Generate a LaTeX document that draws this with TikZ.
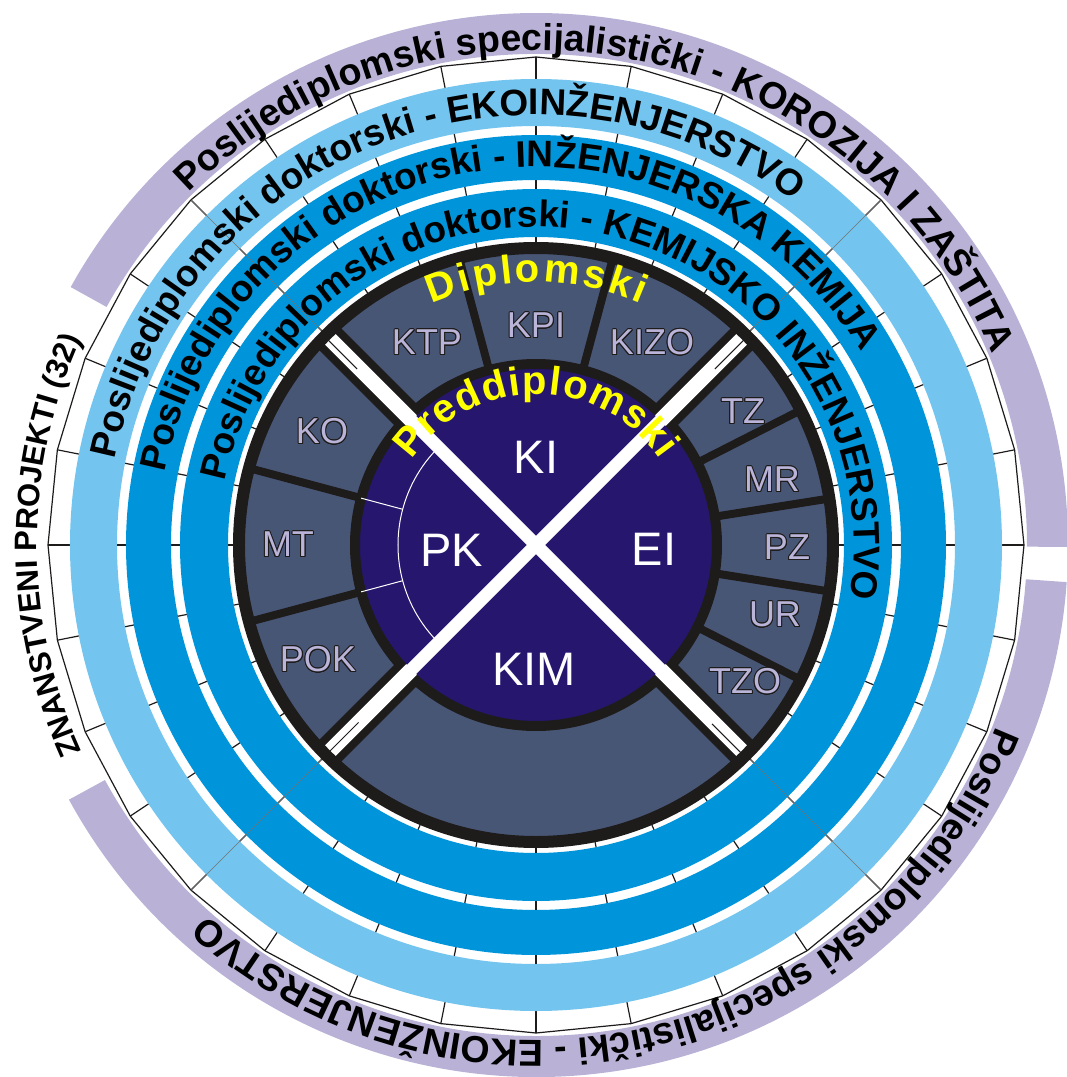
\documentclass[tikz,border=0pt]{standalone}
\usepackage{fontspec}
\setmainfont{Liberation Sans}
\usepackage{contour}
\usetikzlibrary{decorations.text}

\definecolor{ringlila}{HTML}{B9B2D6}
\definecolor{hellblau}{HTML}{73C4EE}
\definecolor{blau}{HTML}{0094DA}
\definecolor{segblau}{HTML}{485676}
\definecolor{kern}{HTML}{26166E}
\definecolor{schrift}{HTML}{BAB4D8}
\definecolor{linie}{HTML}{1E1B1B}
\definecolor{gelb}{HTML}{FFFF00}

\newcommand{\ringschrift}{\fontsize{37}{40}\selectfont\bfseries}
\newcommand{\randschrift}{\fontsize{37.5}{40}\selectfont\bfseries}
\newcommand{\projschrift}{\fontsize{31}{34}\selectfont\bfseries}
\newcommand{\gelbschrift}{\fontsize{40}{42}\selectfont\bfseries\color{gelb}}
\newcommand{\segschrift}{\fontsize{36}{38}\selectfont}
\newcommand{\kernschrift}{\fontsize{47}{50}\selectfont}

\contourlength{1pt}

\begin{document}
\begin{tikzpicture}[x=1pt, y=1pt,
  strich/.style={linie, line width=1.2},
  trenner/.style={linie, line width=8},
  segtext/.style={text=schrift, font=\segschrift, inner sep=0pt},
  kerntext/.style={text=white, font=\kernschrift, inner sep=0pt}]
   \useasboundingbox (-536,-532) rectangle (531,545);

   %% Specijalisticki (aussen)
   \fill[ringlila] (-0.2:532) arc[start angle=-0.2, end angle=151, radius=532]
      -- (151:491) arc[start angle=151, end angle=-0.2, radius=491] -- cycle;
   \fill[ringlila] (208.6:532) arc[start angle=208.6, end angle=356, radius=532]
      -- (356:491) arc[start angle=356, end angle=208.6, radius=491] -- cycle;

   %% Projekte (32)
   \foreach \k in {0,...,31}
      \draw[strich] (\k*11.25:297) -- (\k*11.25:488);
   \draw[strich] (0:488) \foreach \k in {1,...,31} { -- (\k*11.25:488) } -- cycle;

   %% Doktorski
   \fill[hellblau, even odd rule] (0,0) circle[radius=466] circle[radius=419];
   \fill[blau, even odd rule] (0,0) circle[radius=410] circle[radius=365];
   \fill[blau, even odd rule] (0,0) circle[radius=356] circle[radius=308];
   \foreach \w in {45,135,225,315}
      \draw[black!55, line width=0.5] (\w:303) -- (\w:488);

   %% Diplomski und Preddiplomski
   \fill[segblau] (0,0) circle[radius=297];
   \fill[kern] (0,0) circle[radius=181];
   \draw[linie, line width=10] (0,0) circle[radius=181];
   \foreach \w in {105,75,165,195,27,9,-9,-27}
      \draw[trenner] (\w:181) -- (\w:297);
   \foreach \w in {45,135,225,315}
      \draw[linie, line width=31] (\w:178) -- (\w:297);
   \draw[white, line width=13] (45:184) -- (225:184);
   \draw[white, line width=13] (135:184) -- (315:184);
   \foreach \w/\o in {45/-2,135/2,225/0,315/-2} {
      \draw[white, line width=15] (\w:176) -- (\w:297);
      \draw[linie, line width=1, rotate=\w] (251,\o) -- (292,\o);
   }
   \draw[linie, line width=12] (0,0) circle[radius=297];
   \draw[white, line width=1] (135:138) arc[start angle=135, end angle=225, radius=138];
   \draw[white, line width=1] (165:138) -- (165:181);
   \draw[white, line width=1] (195:138) -- (195:181);

   %% Smjerovi
   \node[segtext] (ktp) at (-109,202) {\contour{linie}{KTP}};
   \node[segtext] (kpi) at (0,219) {\contour{linie}{KPI}};
   \node[segtext] (kizo) at (116,202) {\contour{linie}{KIZO}};
   \node[segtext] (ko) at (-214,113) {\contour{linie}{KO}};
   \node[segtext] (mt) at (-248,0) {\contour{linie}{MT}};
   \node[segtext] (pok) at (-218,-115) {\contour{linie}{POK}};
   \node[segtext] (tz) at (207,133) {\contour{linie}{TZ}};
   \node[segtext] (mr) at (236,65) {\contour{linie}{MR}};
   \node[segtext] (pz) at (251,-3) {\contour{linie}{PZ}};
   \node[segtext] (ur) at (239,-70) {\contour{linie}{UR}};
   \node[segtext] (tzo) at (209,-137) {\contour{linie}{TZO}};

   \node[kerntext] (ki) at (0,88) {KI};
   \node[kerntext] (pk) at (-84,-5) {PK};
   \node[kerntext] (ei) at (118,-4) {EI};
   \node[kerntext] (kim) at (-2,-124) {KIM};

   %% Beschriftung der Ringe
   \path[decorate, decoration={text along path,
      text={|\randschrift|Poslijediplomski specijalistički - KOROZIJA I ZAŠTITA}}]
      (134.6:495) arc[start angle=134.6, end angle=0, radius=495];
   \path[decorate, decoration={text along path,
      text={|\randschrift|Poslijediplomski specijalistički - EKOINŽENJERSTVO}}]
      (-21.5:495) arc[start angle=-21.5, end angle=-150, radius=495];
   \path[decorate, decoration={text along path,
      text={|\projschrift|ZNANSTVENI PROJEKTI (32)}}]
      (204.5:499) arc[start angle=204.5, end angle=140, radius=499];
   \path[decorate, decoration={text along path,
      text={|\ringschrift|Poslijediplomski doktorski - EKOINŽENJERSTVO}}]
      (168.5:430) arc[start angle=168.5, end angle=30, radius=430];
   \path[decorate, decoration={text along path,
      text={|\ringschrift|Poslijediplomski doktorski - INŽENJERSKA KEMIJA}}]
      (169:378) arc[start angle=169, end angle=10, radius=378];
   \path[decorate, decoration={text along path,
      text={|\ringschrift|Poslijediplomski doktorski - KEMIJSKO INŽENJERSTVO}}]
      (168.5:318) arc[start angle=168.5, end angle=-30, radius=318];

   %% Gelb
   \path[decorate, decoration={text along path, text align={fit to path},
      text={|\gelbschrift|Diplomski}}]
      (113.4:263) arc[start angle=113.4, end angle=66.6, radius=263];
   \path[decorate, decoration={text along path, text align={fit to path},
      text={|\gelbschrift|Preddiplomski}}]
      (145.5:151) arc[start angle=145.5, end angle=34.5, radius=151];
\end{tikzpicture}
\end{document}
